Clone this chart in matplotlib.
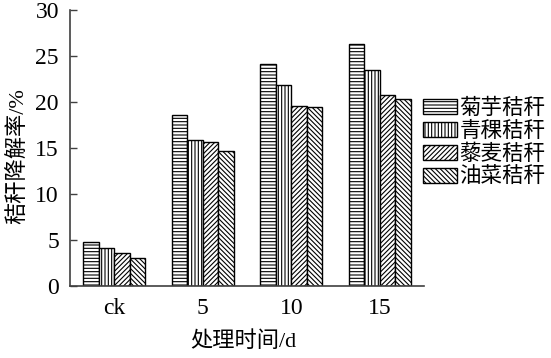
import numpy as np
import matplotlib
matplotlib.use('Agg')
import matplotlib.pyplot as plt

plt.rcParams['font.family'] = ['Liberation Serif', 'Noto Sans CJK SC']
plt.rcParams['hatch.linewidth'] = 0.8
plt.rcParams['hatch.color'] = 'black'

# 数据
groups = ['ck', '5', '10', '15']
names = ['菊芋秸秆', '青稞秸秆', '藜麦秸秆', '油菜秸秆']
juyu = [4.75, 18.55, 24.1, 26.3]
qingke = [4.15, 15.9, 21.9, 23.5]
limai = [3.55, 15.6, 19.6, 20.75]
youcai = [3.0, 14.7, 19.45, 20.3]
series = [juyu, qingke, limai, youcai]
hatches = ['-----', '|||||', '///////', '\\\\\\\\\\\\\\']

fig = plt.figure(figsize=(5.51, 3.58), dpi=100)
ax = fig.add_axes([70 / 551, 72 / 358, 354 / 551, 276 / 358])

x = np.arange(len(groups))
w = 0.176
for i, vals in enumerate(series):
    ax.bar(x + (i - 1.5) * w, vals, w, facecolor='white', edgecolor='black',
           linewidth=1.0, hatch=hatches[i], label=names[i])

ax.set_xlim(-0.5, 3.5)
ax.set_ylim(0, 30)
ax.set_yticks([0, 5, 10, 15, 20, 25, 30])
ax.set_xticks(x)
ax.set_xticklabels(groups)

for s in ['top', 'right']:
    ax.spines[s].set_visible(False)
for s in ['left', 'bottom']:
    ax.spines[s].set_color('#404040')
    ax.spines[s].set_linewidth(1.2)

ax.tick_params(axis='y', direction='in', length=5, width=1, colors='#404040',
               labelcolor='black', labelsize=17, pad=8)
ax.tick_params(axis='x', length=0, labelsize=17, pad=9)

ax.set_ylabel('秸秆降解率/%', fontsize=16)
ax.yaxis.set_label_coords(-0.118, 0.47)
ax.set_xlabel('处理时间/d', fontsize=16)
ax.xaxis.set_label_coords(0.49, -0.165)

ax.legend(loc='upper left', bbox_to_anchor=(423 / 551, 1 - 99 / 358),
          bbox_transform=fig.transFigure, frameon=False, fontsize=15.5,
          handlelength=1.6, handleheight=0.72, handletextpad=0.1,
          labelspacing=0.12, borderpad=0, borderaxespad=0)

fig.savefig('out.png', dpi=100)
